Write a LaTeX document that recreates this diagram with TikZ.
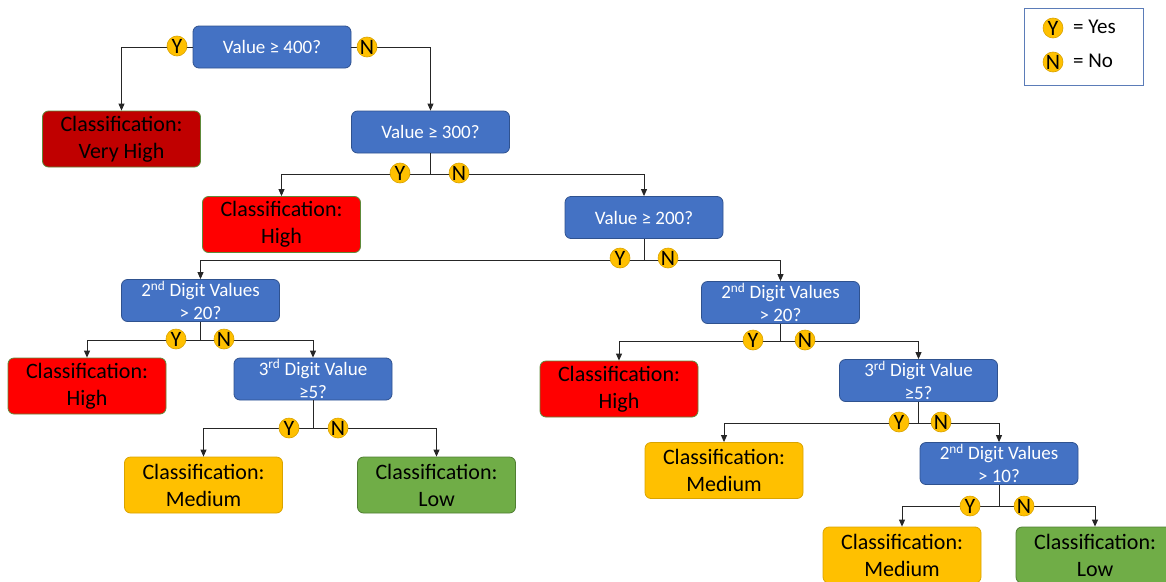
\documentclass[tikz,border=0pt]{standalone}
\usepackage{fontspec}
\setmainfont{Carlito}
\usetikzlibrary{arrows.meta}
\definecolor{qblue}{HTML}{4472C4}
\definecolor{qblueb}{HTML}{2F528F}
\definecolor{cred}{HTML}{FF0000}
\definecolor{cdred}{HTML}{C00000}
\definecolor{credb}{HTML}{5E8A3A}
\definecolor{corange}{HTML}{FFC000}
\definecolor{coranb}{HTML}{D9A300}
\definecolor{cgreen}{HTML}{70AD47}
\definecolor{cgreenb}{HTML}{507E32}
\definecolor{linkc}{HTML}{262626}
\definecolor{legendb}{HTML}{5B7CB8}
\tikzset{
  box/.style={rectangle, rounded corners=6pt, line width=0.8pt, minimum width=158pt,
    align=center, inner sep=0pt},
  question/.style={box, fill=qblue, draw=qblueb, text=white, minimum height=42pt,
    font=\fontsize{19}{23}\selectfont},
  result/.style={box, text=black, minimum height=56pt, font=\fontsize{22}{27}\selectfont},
  vhigh/.style={result, fill=cdred, draw=credb},
  high/.style={result, fill=cred, draw=credb},
  medium/.style={result, fill=corange, draw=coranb},
  low/.style={result, fill=cgreen, draw=cgreenb},
  badge/.style={circle, fill=corange, draw=coranb, line width=0.6pt, minimum size=20pt,
    inner sep=0pt, font=\fontsize{22}{22}\selectfont},
  link/.style={draw=linkc, line width=0.9pt},
  arrow/.style={link, -{Triangle[length=7pt,width=6pt]}},
  legendbox/.style={draw=legendb, line width=0.8pt, fill=white, minimum width=119pt,
    minimum height=77pt, inner sep=0pt},
  legendtext/.style={anchor=west, inner sep=0pt, font=\fontsize{21}{21}\selectfont}
}
\begin{document}
\begin{tikzpicture}[x=1pt, y=-1pt]
\useasboundingbox (0,0) rectangle (1166,581);
\clip (0,0) rectangle (1166,581);

% decision nodes
\node[question] (q400) at (272,47) {Value ≥ 400?};
\node[question] (q300) at (430.5,132) {Value ≥ 300?};
\node[question] (q200) at (644,217.5) {Value ≥ 200?};
\node[question] (d2a) at (200.5,300.5) {2\textsuperscript{nd} Digit Values\\> 20?};
\node[question] (d2b) at (780.5,302.5) {2\textsuperscript{nd} Digit Values\\> 20?};
\node[question] (d3a) at (313,379) {3\textsuperscript{rd} Digit Value\\≥5?};
\node[question] (d3b) at (918.5,380.5) {3\textsuperscript{rd} Digit Value\\≥5?};
\node[question] (d2c) at (999,463.5) {2\textsuperscript{nd} Digit Values\\> 10?};

% classification nodes
\node[vhigh] (vh) at (121.5,139) {Classification:\\Very High};
\node[high] (hi1) at (281.5,224.5) {Classification:\\High};
\node[high] (hi2) at (87,386) {Classification:\\High};
\node[high] (hi3) at (619,389) {Classification:\\High};
\node[medium] (me1) at (203.5,485) {Classification:\\Medium};
\node[low] (lo1) at (436.5,485) {Classification:\\Low};
\node[medium] (me2) at (724,470.5) {Classification:\\Medium};
\node[medium] (me3) at (902,555) {Classification:\\Medium};
\node[low] (lo3) at (1095,555) {Classification:\\Low};

% connectors
\draw[arrow] (q400.west) -| (vh.north);
\draw[arrow] (q400.east) -| (q300.north);

\draw[link] (q300.south) -- (430.5,174) coordinate (f300);
\draw[arrow] (f300) -| (hi1.north);
\draw[arrow] (f300) -| (q200.north);

\draw[link] (q200.south) -- (644,260) coordinate (f200);
\draw[arrow] (f200) -| (d2a.north);
\draw[arrow] (f200) -| (d2b.north);

\draw[link] (d2a.south) -- (200.5,340) coordinate (f2a);
\draw[arrow] (f2a) -| (hi2.north);
\draw[arrow] (f2a) -| (d3a.north);

\draw[link] (d3a.south) -- (313,428) coordinate (f3a);
\draw[arrow] (f3a) -| (me1.north);
\draw[arrow] (f3a) -| (lo1.north);

\draw[link] (d2b.south) -- (780.5,341) coordinate (f2b);
\draw[arrow] (f2b) -| (hi3.north);
\draw[arrow] (f2b) -| (d3b.north);

\draw[link] (d3b.south) -- (918.5,423) coordinate (f3b);
\draw[arrow] (f3b) -| (me2.north);
\draw[arrow] (f3b) -| (d2c.north);

\draw[link] (d2c.south) -- (999,506) coordinate (f2c);
\draw[arrow] (f2c) -| (me3.north);
\draw[arrow] (f2c) -| (lo3.north);

% yes / no badges
\node[badge] (y400) at (177,46) {Y};
\node[badge] (n400) at (367,47) {N};
\node[badge] (y300) at (400,173) {Y};
\node[badge] (n300) at (459,173) {N};
\node[badge] (y200) at (620,258) {Y};
\node[badge] (n200) at (668,258) {N};
\node[badge] (y2a) at (176,339) {Y};
\node[badge] (n2a) at (224,339) {N};
\node[badge] (y3a) at (289,428) {Y};
\node[badge] (n3a) at (338,428) {N};
\node[badge] (y2b) at (753,340) {Y};
\node[badge] (n2b) at (805,340) {N};
\node[badge] (y3b) at (899,422) {Y};
\node[badge] (n3b) at (941,422) {N};
\node[badge] (y2c) at (970,506) {Y};
\node[badge] (n2c) at (1024,506) {N};

% legend
\node[legendbox] (legend) at (1083.5,47) {};
\node[badge] (ly) at (1053,28) {Y};
\node[legendtext] (lyt) at (1073,27) {= Yes};
\node[badge] (ln) at (1053,62) {N};
\node[legendtext] (lnt) at (1073,61) {= No};
\end{tikzpicture}
\end{document}
